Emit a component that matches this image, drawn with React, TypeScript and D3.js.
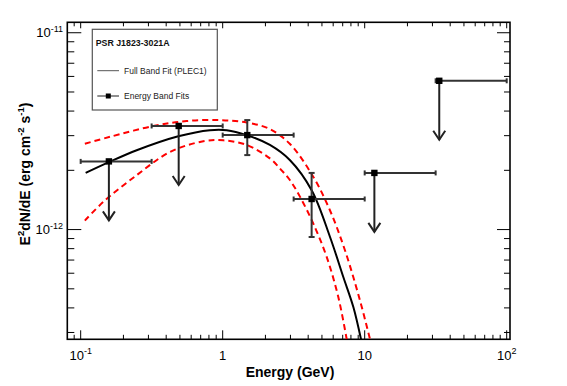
import React from 'react';
import * as d3 from 'd3';

// energy bands (GeV)
const bandLow = [0.1, 0.316, 1, 3.16, 10, 31.6];
const bandHigh = [0.316, 1, 3.16, 10, 31.6, 100];
const bandE = [0.158, 0.49, 1.49, 4.23, 11.7, 33.5];
const bandFlux = [2.22e-12, 3.36e-12, 3.02e-12, 1.43e-12, 1.94e-12, 5.7e-12];
const bandErrLow = [null, null, 2.39e-12, 9.17e-13, null, null];
const bandErrHigh = [null, null, 3.6e-12, 1.94e-12, null, null];
const upperLimit = [true, true, false, false, true, true];

// full band PLEC1 fit
const fitE = [0.1084, 0.158, 0.248, 0.487, 0.814, 1.067, 1.476, 2.15, 2.98, 4.24, 5.7, 7.07, 8.32, 9.42];
const fitFlux = [1.94e-12, 2.2e-12, 2.53e-12, 2.98e-12, 3.2e-12, 3.2e-12, 3.02e-12, 2.69e-12, 2.25e-12, 1.58e-12, 9.17e-13, 5.74e-13, 4.04e-13, 2.77e-13];

// error band (red dashed)
const upE = [0.107, 0.161, 0.325, 0.558, 0.957, 1.476, 2.15, 2.98, 4.35, 5.7, 7.26, 9.26, 10.9];
const upFlux = [2.73e-12, 2.96e-12, 3.36e-12, 3.56e-12, 3.6e-12, 3.5e-12, 3.24e-12, 2.72e-12, 1.85e-12, 1.25e-12, 7.85e-13, 4.37e-13, 2.77e-13];
const loE = [0.107, 0.144, 0.248, 0.426, 0.73, 1.01, 1.476, 2.15, 2.6, 2.98, 3.5, 4.35, 5.4, 6.52, 7.47];
const loFlux = [1.11e-12, 1.38e-12, 1.89e-12, 2.48e-12, 2.81e-12, 2.84e-12, 2.69e-12, 2.3e-12, 2.0e-12, 1.78e-12, 1.47e-12, 1.07e-12, 7.26e-13, 4.54e-13, 2.77e-13];

const xRange = [0.0805, 105.5];
const yRange = [2.77e-13, 1.13e-11];

const title = 'PSR J1823-3021A';
const legendLabels = ['Full Band Fit (PLEC1)', 'Energy Band Fits'];

const font = '"Liberation Sans", Arial, Helvetica, sans-serif';
const W = 567, H = 386;
const frame = { left: 67.3, right: 510, top: 22.3, bottom: 339.3 };

const isDecade = (t: number) => Math.abs(Math.log10(t) - Math.round(Math.log10(t))) < 1e-6;

function PowLabel(props: { v: number; x: number; y: number; anchor: string }) {
  const e = Math.round(Math.log10(props.v));
  if (e === 0 || e === 1) {
    return <text x={props.x} y={props.y} textAnchor={props.anchor} fontSize={13}>{e === 0 ? '1' : '10'}</text>;
  }
  return (
    <text x={props.x} y={props.y} textAnchor={props.anchor} fontSize={13}>
      10<tspan dy={-5.5} fontSize={9}>{String(e)}</tspan>
    </text>
  );
}

export default function App() {
  const x = d3.scaleLog().domain(xRange).range([frame.left, frame.right]);
  const y = d3.scaleLog().domain(yRange).range([frame.bottom, frame.top]);

  const line = d3.line<[number, number]>()
    .x(d => x(d[0]))
    .y(d => y(d[1]))
    .curve(d3.curveCatmullRom.alpha(0.5));

  const fitPath = line(fitE.map((e, i) => [e, fitFlux[i]]));
  const upPath = line(upE.map((e, i) => [e, upFlux[i]]));
  const loPath = line(loE.map((e, i) => [e, loFlux[i]]));

  const xTicks = x.ticks();
  const yTicks = y.ticks();
  const barColor = '#333';

  return (
    <svg width={W} height={H} style={{ position: 'absolute', left: 0, top: 0, background: '#fff' }} fontFamily={font}>
      <defs>
        <clipPath id="frame-clip">
          <rect x={frame.left} y={frame.top} width={frame.right - frame.left} height={frame.bottom - frame.top} />
        </clipPath>
      </defs>
      <rect x={0} y={0} width={W} height={H} fill="#fff" />

      {/* x ticks bottom and top */}
      {xTicks.map((t, i) => {
        const major = isDecade(t);
        const px = x(t);
        return (
          <g key={'xt' + i} stroke="#000" strokeWidth={1}>
            <line x1={px} x2={px} y1={frame.bottom} y2={frame.bottom - (major ? 9 : 4.5)} />
            <line x1={px} x2={px} y1={frame.top} y2={frame.top + (major ? 6 : 4)} />
          </g>
        );
      })}
      {/* y ticks left and right */}
      {yTicks.map((t, i) => {
        const major = isDecade(t);
        const py = y(t);
        return (
          <g key={'yt' + i} stroke="#000" strokeWidth={1}>
            <line x1={frame.left} x2={frame.left + (major ? 14 : 7)} y1={py} y2={py} />
            <line x1={frame.right} x2={frame.right - (major ? 13 : 6)} y1={py} y2={py} />
          </g>
        );
      })}

      <rect x={frame.left} y={frame.top} width={frame.right - frame.left} height={frame.bottom - frame.top}
        fill="none" stroke="#000" strokeWidth={1.6} />

      {/* tick labels */}
      {xTicks.filter(isDecade).map((t, i) => (
        <PowLabel key={'xl' + i} v={t} x={x(t)} y={359.5} anchor="middle" />
      ))}
      {yTicks.filter(isDecade).map((t, i) => (
        <PowLabel key={'yl' + i} v={t} x={63} y={y(t) + 4.7} anchor="end" />
      ))}

      {/* axis titles */}
      <text x={290} y={377} textAnchor="middle" fontSize={14} fontWeight="bold">Energy (GeV)</text>
      <text transform="translate(30,174) rotate(-90)" textAnchor="middle" fontSize={14} fontWeight="bold">
        E<tspan dy={-6} fontSize={9.5}>2</tspan><tspan dy={6}>dN/dE (erg cm</tspan>
        <tspan dy={-6} fontSize={9.5}>-2</tspan><tspan dy={6}> s</tspan>
        <tspan dy={-6} fontSize={9.5}>-1</tspan><tspan dy={6}>)</tspan>
      </text>

      {/* curves */}
      <g clipPath="url(#frame-clip)" fill="none">
        <path d={upPath || ''} stroke="#ff0000" strokeWidth={2} strokeDasharray="6 4" />
        <path d={loPath || ''} stroke="#ff0000" strokeWidth={2} strokeDasharray="6 4" />
        <path d={fitPath || ''} stroke="#000" strokeWidth={2} />
      </g>

      {/* energy band points */}
      {bandE.map((e, i) => {
        const px = x(e);
        const py = y(bandFlux[i]);
        const x0 = x(bandLow[i]);
        const x1 = x(bandHigh[i]);
        const lo = bandErrLow[i];
        const hi = bandErrHigh[i];
        const tip = py + 59;
        return (
          <g key={'pt' + i} stroke={barColor} strokeWidth={2} fill="none">
            <line x1={x0} x2={x1} y1={py} y2={py} />
            <line x1={x0} x2={x0} y1={py - 2.5} y2={py + 2.5} />
            <line x1={x1} x2={x1} y1={py - 2.5} y2={py + 2.5} />
            {lo !== null && hi !== null && (
              <g>
                <line x1={px} x2={px} y1={y(hi)} y2={y(lo)} />
                <line x1={px - 3} x2={px + 3} y1={y(hi)} y2={y(hi)} />
                <line x1={px - 3} x2={px + 3} y1={y(lo)} y2={y(lo)} />
              </g>
            )}
            {upperLimit[i] && (
              <g stroke="#222">
                <line x1={px} x2={px} y1={py} y2={tip} />
                <polyline points={`${px - 6},${tip - 9} ${px},${tip} ${px + 6},${tip - 9}`} />
              </g>
            )}
            <rect x={px - 3.2} y={py - 3.2} width={6.4} height={6.4} fill="#000" stroke="none" />
          </g>
        );
      })}

      {/* legend */}
      <g>
        <rect x={92.3} y={29.3} width={125} height={80.7} fill="#fff" stroke="#555" strokeWidth={1.2} />
        <text x={95.7} y={46} fontSize={8.8} fontWeight="bold" fill="#111">{title}</text>
        <line x1={97.3} x2={119} y1={70.7} y2={70.7} stroke="#555" strokeWidth={1} />
        <text x={124} y={73.8} fontSize={8.5} fill="#222">{legendLabels[0]}</text>
        <line x1={97.3} x2={119} y1={96} y2={96} stroke="#444" strokeWidth={1.2} />
        <rect x={105.8} y={93.5} width={5} height={5} fill="#000" />
        <text x={124} y={99.1} fontSize={8.5} fill="#222">{legendLabels[1]}</text>
      </g>
    </svg>
  );
}
